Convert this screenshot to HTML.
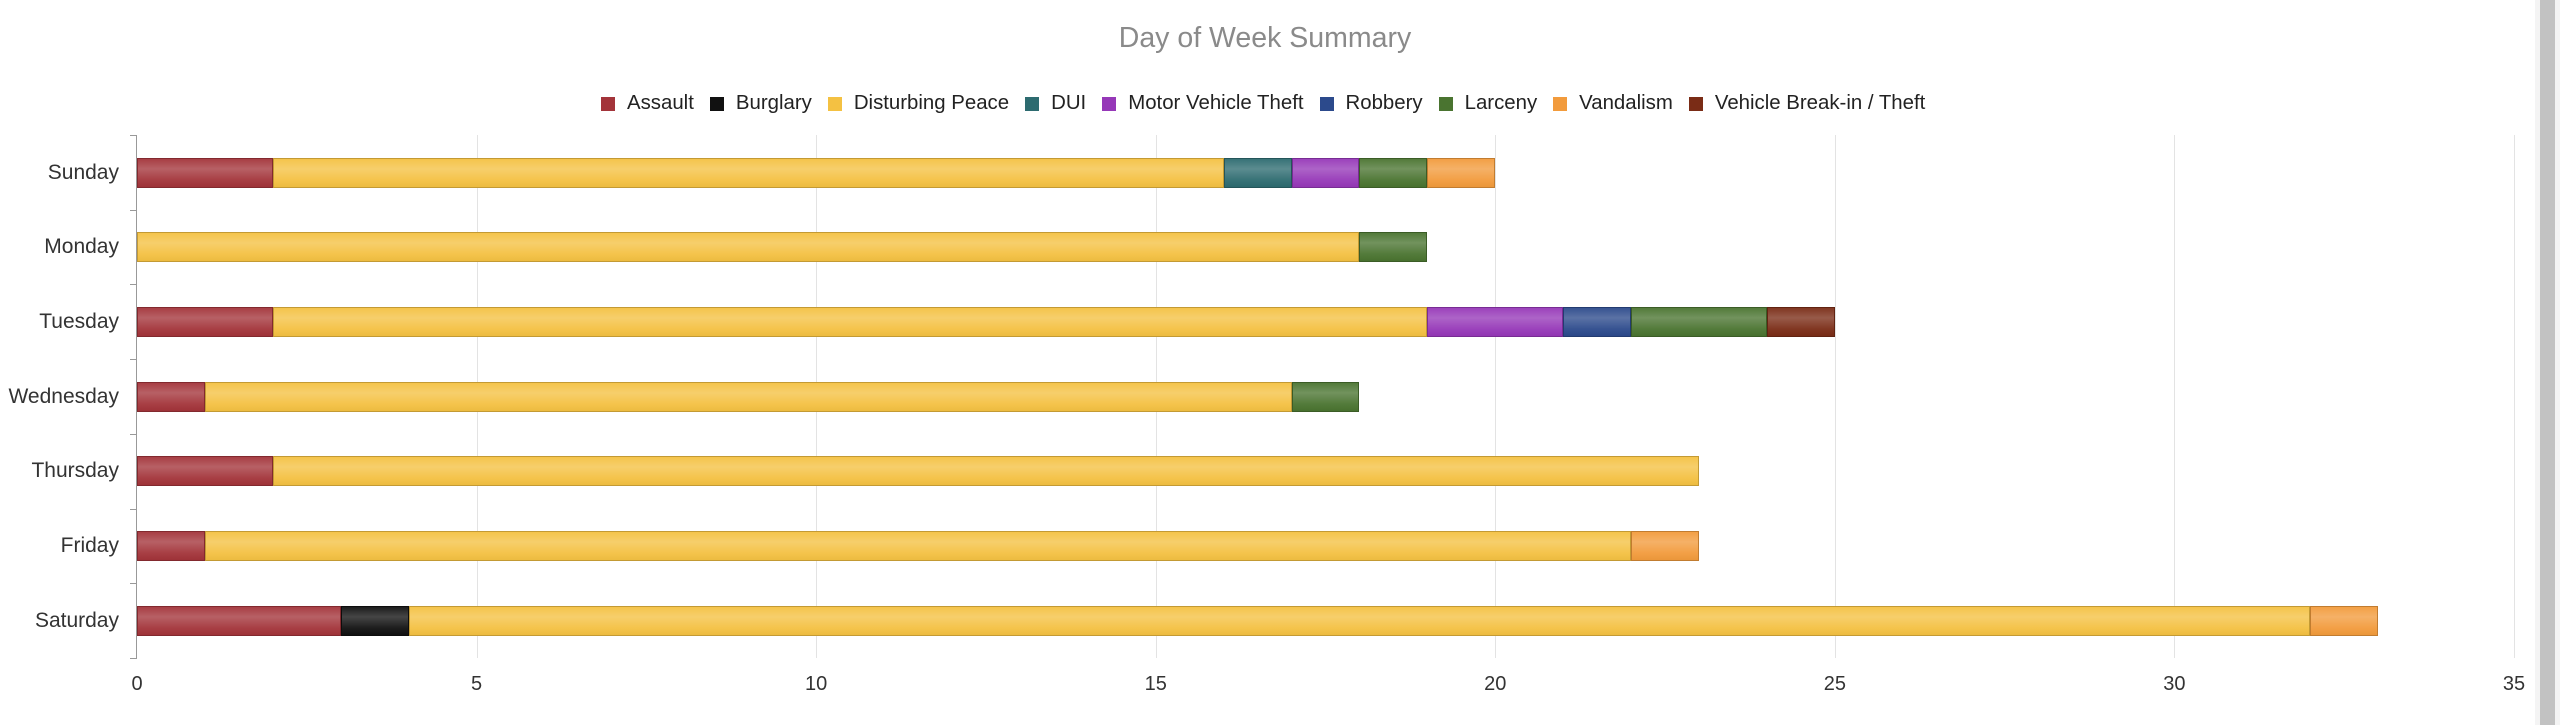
<!DOCTYPE html>
<html><head><meta charset="utf-8"><style>
body{margin:0;width:2560px;height:725px;background:#fff;position:relative;overflow:hidden;font-family:"Liberation Sans",Arial,sans-serif}
.a{position:absolute}
.t{position:absolute;top:22px;left:0;width:2530px;text-align:center;font-size:28.5px;color:#8a8a8a}
.leg{position:absolute;top:92px;left:601px;font-size:20.4px;color:#222;white-space:nowrap;display:flex;align-items:center}
.leg i{display:inline-block;width:14px;height:14px;margin-right:12px}
.leg span{margin-right:16px}
.g{position:absolute;top:135px;height:523px;width:1px;background:#e3e3e3}
.xl{position:absolute;top:673px;font-size:20px;color:#333;width:60px;margin-left:-30px;text-align:center}
.yl{position:absolute;right:2441px;font-size:21px;color:#333;text-align:right;white-space:nowrap}
.s{position:absolute;height:30px;box-sizing:border-box;border:1px solid rgba(0,0,0,.2)}
.s::after{content:"";position:absolute;left:0;right:0;top:0;bottom:0;background:linear-gradient(to bottom,rgba(255,255,255,.05) 0%,rgba(255,255,255,.22) 35%,rgba(255,255,255,.05) 75%,rgba(0,0,0,.03) 100%)}
</style></head><body>
<div class="t">Day of Week Summary</div>
<div class="leg">
<i style="background:#a3343a"></i><span>Assault</span>
<i style="background:#111"></i><span>Burglary</span>
<i style="background:#f4c142"></i><span>Disturbing Peace</span>
<i style="background:#2d6b70"></i><span>DUI</span>
<i style="background:#9638b8"></i><span>Motor Vehicle Theft</span>
<i style="background:#2c4a8c"></i><span>Robbery</span>
<i style="background:#4a7430"></i><span>Larceny</span>
<i style="background:#f29b3c"></i><span>Vandalism</span>
<i style="background:#7a2c16"></i><span>Vehicle Break-in / Theft</span>
</div>
<div id="c"></div>
<div class="a" style="left:2535px;top:0;width:25px;height:725px;background:#f4f4f4"></div>
<div class="a" style="left:2540px;top:0;width:15px;height:725px;background:#c2c2c2"></div>
<script>
var X0=137,U=(2514-137)/35,c=document.getElementById('c'),h='';
for(var i=1;i<=7;i++)h+='<div class="g" style="left:'+(X0+i*5*U)+'px"></div>';
for(var i=0;i<=7;i++)h+='<div class="xl" style="left:'+(X0+i*5*U)+'px">'+(i*5)+'</div>';
h+='<div class="a" style="left:136px;top:135px;width:1px;height:523px;background:#999"></div>';
for(var i=0;i<=7;i++)h+='<div class="a" style="left:130px;top:'+(135+i*74.7)+'px;width:7px;height:1px;background:#999"></div>';
var C={A:'#a3343a',B:'#111',D:'#f4c142',U:'#2d6b70',M:'#9638b8',R:'#2c4a8c',L:'#4a7430',V:'#f29b3c',K:'#7a2c16'};
var data=[['Sunday',[['A',2],['D',14],['U',1],['M',1],['L',1],['V',1]]],
['Monday',[['D',18],['L',1]]],
['Tuesday',[['A',2],['D',17],['M',2],['R',1],['L',2],['K',1]]],
['Wednesday',[['A',1],['D',16],['L',1]]],
['Thursday',[['A',2],['D',21]]],
['Friday',[['A',1],['D',21],['V',1]]],
['Saturday',[['A',3],['B',1],['D',28],['V',1]]]];
data.forEach(function(d,i){var y=135+i*74.7+22.5,x=0;
h+='<div class="yl" style="top:'+(y+3)+'px">'+d[0]+'</div>';
d[1].forEach(function(s){h+='<div class="s" style="left:'+(X0+x*U)+'px;top:'+y+'px;width:'+(s[1]*U)+'px;background:'+C[s[0]]+'"></div>';x+=s[1];});});
c.innerHTML=h;
</script>
</body></html>
